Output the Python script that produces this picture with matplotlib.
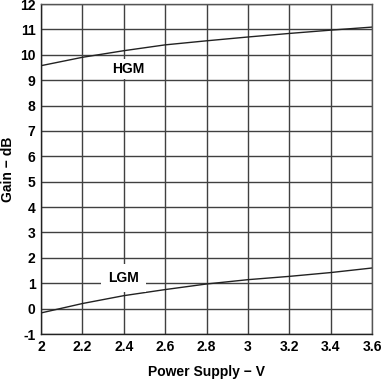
import matplotlib
matplotlib.use("Agg")
import matplotlib.pyplot as plt
import numpy as np

# Power supply (V) vs gain (dB)
supply = [2.0, 2.2, 2.4, 2.6, 2.8, 3.0, 3.2, 3.4, 3.6]
hgm = [9.57, 9.9, 10.16, 10.39, 10.55, 10.7, 10.84, 10.97, 11.09]
lgm = [-0.17, 0.2, 0.51, 0.75, 0.97, 1.14, 1.27, 1.42, 1.6]

xticks = [2, 2.2, 2.4, 2.6, 2.8, 3, 3.2, 3.4, 3.6]
xticklabels = ["2", "2.2", "2.4", "2.6", "2.8", "3", "3.2", "3.4", "3.6"]
yticks = list(range(-1, 13))
yticklabels = [str(v) for v in yticks]  # plain hyphen for -1

plt.rcParams['font.family'] = ['Liberation Sans', 'DejaVu Sans']
plt.rcParams['font.weight'] = 'bold'

fig = plt.figure(figsize=(3.81, 3.79), dpi=100)
ax = fig.add_axes([41/381, 45/379, 331/381, 330/379])

ax.plot(supply, hgm, color='#222222', lw=1.0)
ax.plot(supply, lgm, color='#222222', lw=1.0)

ax.set_xlim(2, 3.6)
ax.set_ylim(-1, 12)
ax.set_xticks(xticks)
ax.set_xticklabels(xticklabels)
ax.set_yticks(yticks)
ax.set_yticklabels(yticklabels)
ax.grid(True, color='#404040', lw=1.0)
ax.set_axisbelow(True)
ax.tick_params(length=0, labelsize=10, pad=4)
for s in ax.spines.values():
    s.set_color('#555555')
    s.set_linewidth(1.0)
ax.spines['left'].set_color('#222222')
ax.spines['bottom'].set_color('#222222')

ax.text(2.42, 9.45, "HGM", ha='center', va='center', fontsize=10, fontweight='bold',
        bbox=dict(facecolor='white', edgecolor='none', pad=2))
ax.text(2.40, 1.2, "LGM", ha='center', va='center', fontsize=10, fontweight='bold',
        bbox=dict(facecolor='white', edgecolor='none', pad=5))

ax.set_xlabel("Power Supply − V", fontsize=10, fontweight='bold')
ax.set_ylabel("Gain − dB", fontsize=10, fontweight='bold')
ax.xaxis.set_label_coords(0.5, -31/331)
ax.yaxis.set_label_coords(-26/331, 0.5)

fig.savefig("out.png", dpi=100)
